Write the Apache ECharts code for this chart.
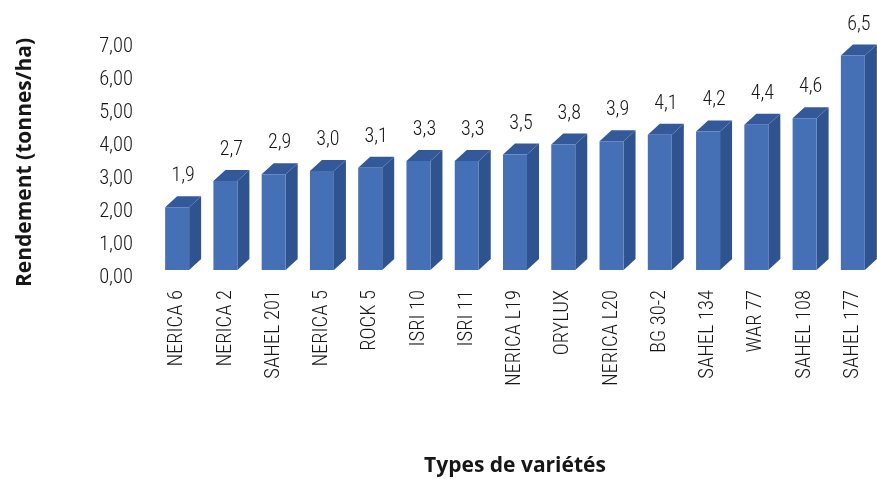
<!DOCTYPE html>
<html>
<head>
<meta charset="utf-8">
<script src="https://cdn.jsdelivr.net/npm/echarts@6/dist/echarts.min.js"></script>
<style>
  html, body { margin: 0; padding: 0; background: #fff; }
  #chart { width: 877px; height: 479px; }
</style>
</head>
<body>
<div id="chart"></div>
<script>
// Rice yields by variety (t/ha)
const varieties = ['NERICA 6', 'NERICA 2', 'SAHEL 201', 'NERICA 5', 'ROCK 5', 'ISRI 10', 'ISRI 11',
  'NERICA L19', 'ORYLUX', 'NERICA L20', 'BG 30-2', 'SAHEL 134', 'WAR 77', 'SAHEL 108', 'SAHEL 177'];
const yields = [1.9, 2.7, 2.9, 3.0, 3.1, 3.3, 3.3, 3.5, 3.8, 3.9, 4.1, 4.2, 4.4, 4.6, 6.5];
const yTicks = { min: 0, max: 7, step: 1 };

const LABEL_FONT = '"Roboto Condensed", sans-serif';
const TITLE_FONT = '"Open Sans", sans-serif';
const INK = '#161616';

// pseudo-3D block geometry
const FRONT_W = 24, DEPTH_X = 12, DEPTH_Y = 11;
const C_FRONT = '#4570b6', C_SIDE = '#2f538e', C_TOP = '#34599a';

const fmt = v => v.toFixed(1).replace('.', ',');

function renderBlock(params, api) {
  const cat = api.value(0), v = api.value(1);
  const base = api.coord([cat, 0]);
  const top = api.coord([cat, v]);
  const x0 = top[0] - FRONT_W / 2, x1 = top[0] + FRONT_W / 2;
  const yt = top[1], yb = base[1];
  return {
    type: 'group',
    children: [
      { type: 'polygon', shape: { points: [[x1, yt], [x1 + DEPTH_X, yt - DEPTH_Y], [x1 + DEPTH_X, yb - DEPTH_Y], [x1, yb]] },
        style: { fill: C_SIDE } },
      { type: 'polygon', shape: { points: [[x0, yt], [x0 + DEPTH_X, yt - DEPTH_Y], [x1 + DEPTH_X, yt - DEPTH_Y], [x1, yt]] },
        style: { fill: C_TOP } },
      { type: 'rect', shape: { x: x0, y: yt, width: FRONT_W, height: yb - yt },
        style: { fill: C_FRONT } },
      { type: 'text', x: top[0] + DEPTH_X / 2, y: yt - DEPTH_Y - 10,
        style: { text: fmt(v), font: '300 20px ' + LABEL_FONT, fill: INK, align: 'center', verticalAlign: 'bottom' } }
    ]
  };
}

const chart = echarts.init(document.getElementById('chart'), null, { renderer: 'canvas' });
chart.setOption({
  animation: false,
  grid: [
    { left: 153, width: 727.5, top: 39, height: 231 },
    { left: 143, width: 700, top: 47, height: 231 }
  ],
  xAxis: [
    { type: 'category', gridIndex: 0, data: varieties,
      axisLine: { show: false }, axisTick: { show: false },
      axisLabel: { rotate: 90, interval: 0, margin: 20, fontFamily: LABEL_FONT, fontWeight: 300, fontSize: 20.5, color: INK },
      name: 'Types de variétés', nameLocation: 'middle', nameGap: 186,
      nameTextStyle: { fontFamily: TITLE_FONT, fontWeight: 'bold', fontSize: 21, color: INK } },
    { type: 'value', gridIndex: 1, show: false }
  ],
  yAxis: [
    { type: 'value', gridIndex: 0, min: yTicks.min, max: yTicks.max, interval: yTicks.step, show: false },
    { type: 'value', gridIndex: 1, min: yTicks.min, max: yTicks.max, interval: yTicks.step,
      axisLine: { show: false }, axisTick: { show: false }, splitLine: { show: false },
      axisLabel: { margin: 10, fontFamily: LABEL_FONT, fontWeight: 300, fontSize: 20.5, color: INK,
        formatter: v => v.toFixed(2).replace('.', ',') },
      name: 'Rendement (tonnes/ha)', nameLocation: 'middle', nameGap: 107, nameRotate: 90,
      nameTextStyle: { fontFamily: TITLE_FONT, fontWeight: 'bold', fontSize: 21, color: INK } }
  ],
  series: [{
    type: 'custom', xAxisIndex: 0, yAxisIndex: 0,
    renderItem: renderBlock,
    data: yields.map((v, i) => [i, v])
  }]
});
</script>
</body>
</html>
